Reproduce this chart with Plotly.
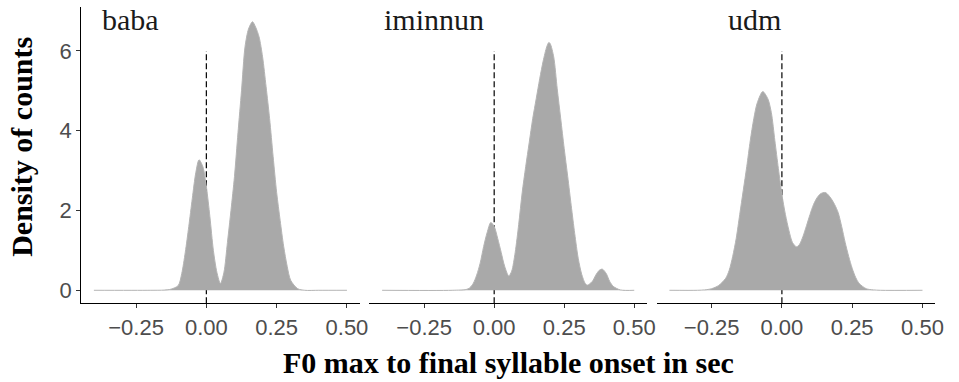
import plotly.graph_objects as go

# ---------------- data ----------------
panels = ["baba", "iminnun", "udm"]

x_baba = [-0.4, -0.2, -0.15, -0.125, -0.1, -0.0875, -0.075, -0.0625, -0.05, -0.0375, -0.026,
          -0.0125, 0.0, 0.0125, 0.025, 0.0375, 0.05, 0.0625, 0.075, 0.0875, 0.1, 0.1125, 0.125,
          0.1375, 0.15, 0.164, 0.175, 0.1875, 0.2, 0.2125, 0.225, 0.2375, 0.25, 0.2625, 0.275,
          0.2875, 0.3, 0.325, 0.35, 0.4, 0.5]
y_baba = [0, 0, 0.005, 0.03, 0.12, 0.42, 0.95, 1.6, 2.3, 2.95, 3.27,
          3.1, 2.6, 1.85, 1.0, 0.45, 0.17, 0.45, 1.2, 2.0, 2.85, 3.95, 5.0,
          6.1, 6.55, 6.73, 6.6, 6.35, 5.85, 5.1, 4.3, 3.35, 2.45, 1.75, 1.1,
          0.6, 0.25, 0.04, 0.0, 0, 0]

x_iminnun = [-0.4, -0.15, -0.1, -0.0875, -0.075, -0.0625, -0.05, -0.0375, -0.025, -0.012, 0.0,
             0.0125, 0.025, 0.0375, 0.052, 0.0625, 0.075, 0.0875, 0.1, 0.1125, 0.125, 0.1375,
             0.15, 0.1625, 0.175, 0.1875, 0.195, 0.2, 0.2125, 0.225, 0.2375, 0.25, 0.2625,
             0.275, 0.2875, 0.3, 0.3125, 0.325, 0.333, 0.35, 0.3625, 0.375, 0.386, 0.4,
             0.4125, 0.425, 0.45, 0.5]
y_iminnun = [0, 0, 0.02, 0.06, 0.17, 0.38, 0.68, 1.1, 1.45, 1.70, 1.6,
             1.3, 0.95, 0.6, 0.36, 0.48, 0.95, 1.65, 2.45, 3.1, 3.7, 4.3,
             4.8, 5.3, 5.75, 6.1, 6.21, 6.18, 5.85, 5.05, 4.3, 3.55, 2.85,
             2.12, 1.42, 0.8, 0.4, 0.17, 0.13, 0.22, 0.38, 0.5, 0.53, 0.42,
             0.22, 0.1, 0.01, 0]

x_udm = [-0.4, -0.3, -0.275, -0.25, -0.225, -0.2, -0.1875, -0.175, -0.1625, -0.15, -0.1375,
         -0.125, -0.1125, -0.1, -0.0875, -0.068, -0.05, -0.0375, -0.025, -0.0125, 0.0, 0.0125,
         0.025, 0.0375, 0.052, 0.0625, 0.075, 0.0875, 0.1, 0.1125, 0.125, 0.1375, 0.155, 0.175,
         0.1875, 0.2, 0.2125, 0.225, 0.2375, 0.25, 0.2625, 0.275, 0.3, 0.325, 0.35, 0.5]
y_udm = [0, 0.0, 0.01, 0.04, 0.12, 0.3, 0.5, 0.85, 1.3, 1.9, 2.5,
         3.1, 3.75, 4.3, 4.7, 4.98, 4.8, 4.45, 3.75, 3.05, 2.4, 1.9,
         1.5, 1.2, 1.09, 1.15, 1.35, 1.62, 1.9, 2.15, 2.32, 2.42, 2.45, 2.3,
         2.15, 1.95, 1.6, 1.2, 0.85, 0.55, 0.32, 0.17, 0.04, 0.01, 0, 0]

xs = [x_baba, x_iminnun, x_udm]
ys = [y_baba, y_iminnun, y_udm]

# reference line
ref_x = 0.0
ref_top = 6.0

x_tickvals = [-0.25, 0.0, 0.25, 0.50]
x_ticktext = ["\u22120.25", "0.00", "0.25", "0.50"]
y_tickvals = [0, 2, 4, 6]
y_ticktext = ["0", "2", "4", "6"]

x_range = [-0.445, 0.545]
y_range = [-0.326, 7.09]

# ---------------- figure ----------------
W, H = 959, 382
panel_px = [(82, 363), (373, 653), (663, 944)]
y_dom = [1 - 303.3 / H, 1 - 7.4 / H]

FILL = "#A9A9A9"
TICKFONT = dict(family="Liberation Sans, Arial, sans-serif", size=22, color="#4D4D4D")
SERIF = "Liberation Serif, Times New Roman, serif"

fig = go.Figure()
layout = dict(
    width=W, height=H,
    margin=dict(l=0, r=0, t=0, b=0),
    paper_bgcolor="white", plot_bgcolor="white",
    showlegend=False,
)

label_left_px = [101, 386, 733]

for i, name in enumerate(panels):
    sfx = "" if i == 0 else str(i + 1)
    xa, ya = "x" + sfx, "y" + sfx
    # dashed reference line, drawn first so the density covers it
    fig.add_trace(go.Scatter(
        x=[ref_x, ref_x], y=[y_range[0], ref_top], mode="lines",
        line=dict(color="black", width=1.2, dash="6px,3px"),
        xaxis=xa, yaxis=ya, hoverinfo="skip"))
    fig.add_trace(go.Scatter(
        x=xs[i], y=ys[i], mode="lines", fill="tozeroy",
        fillcolor=FILL, line=dict(color="#B4B4B4", width=1, shape="spline", smoothing=0.8),
        xaxis=xa, yaxis=ya, hoverinfo="skip"))

    x0, x1 = panel_px[i]
    layout["xaxis" + sfx] = dict(
        domain=[x0 / W, x1 / W], range=x_range, anchor=ya,
        showline=True, linecolor="black", linewidth=1.1,
        ticks="outside", ticklen=4, tickwidth=1, tickcolor="#333333",
        tickvals=x_tickvals, ticktext=x_ticktext, tickfont=TICKFONT,
        showgrid=False, zeroline=False, fixedrange=True)
    ydict = dict(domain=y_dom, range=y_range, anchor=xa,
                 showgrid=False, zeroline=False, fixedrange=True)
    if i == 0:
        ydict.update(showline=True, linecolor="black", linewidth=1.1,
                     ticks="outside", ticklen=4, tickwidth=1, tickcolor="#333333",
                     tickvals=y_tickvals, ticktext=y_ticktext, tickfont=TICKFONT)
    else:
        ydict.update(showline=False, showticklabels=False, ticks="", matches="y")
    layout["yaxis" + sfx] = ydict

fig.update_layout(**layout)

annotations = []
for i, name in enumerate(panels):
    annotations.append(dict(
        text=name, xref="paper", yref="paper",
        x=label_left_px[i] / W, y=1 - 1 / H, xanchor="left", yanchor="top",
        showarrow=False, font=dict(family=SERIF, size=30, color="#1A1A1A")))
annotations.append(dict(
    text="<b>F0 max to final syllable onset in sec</b>", xref="paper", yref="paper",
    x=513 / W, y=1 - 362 / H, xanchor="center", yanchor="middle", showarrow=False,
    font=dict(family=SERIF, size=30, color="black")))
annotations.append(dict(
    text="<b>Density of counts</b>", xref="paper", yref="paper",
    x=21 / W, y=1 - 147 / H, xanchor="center", yanchor="middle", showarrow=False,
    textangle=-90, font=dict(family=SERIF, size=30, color="black")))
fig.update_layout(annotations=annotations)

fig.write_html("out.html")
